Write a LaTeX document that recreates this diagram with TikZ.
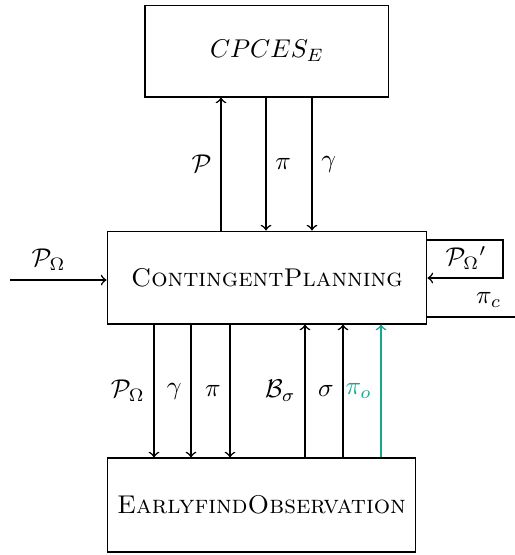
\documentclass[tikz,border=0pt]{standalone}
\usepackage{amsmath,amssymb,amsfonts}
\usepackage{tikz}
\usepackage{xcolor}
\definecolor{obscolor}{RGB}{22,168,142}

\begin{document}
\begin{tikzpicture}[x=0.0137cm, y=-0.0137cm, baseline=(current bounding box.center)]
 \useasboundingbox (0,0) rectangle (515,555);
 % the three modules
 \node[draw, inner sep=2pt, minimum width=3.343cm, minimum height=1.26cm] (cpces) at (267,51) {$CPCES_E$};
 \node[draw, inner sep=2pt, minimum width=4.384cm, minimum height=1.274cm] (plan) at (267,277.5) {\textsc{ContingentPlanning}};
 \node[draw, inner sep=2pt, minimum width=4.233cm, minimum height=1.288cm] (obs) at (261.5,505) {\textsc{EarlyfindObservation}};
 % planner <-> CPCES
 \draw[semithick, ->] (plan.north -| 221,0) -- (cpces.south -| 221,0) node[midway, left] {$\mathcal{P}$};
 \draw[semithick, ->] (cpces.south -| 266,0) -- (plan.north -| 266,0) node[midway, right] {$\pi$};
 \draw[semithick, ->] (cpces.south -| 312,0) -- (plan.north -| 312,0) node[midway, right] {$\gamma$};
 % input problem and the loop on the right
 \coordinate (pin) at (10,280);
 \draw[semithick, ->] (pin) -- (pin -| plan.west) node[pos=.4, above] {$\mathcal{P}_\Omega$};
 \draw[semithick, ->] (plan.east |- 0,240) -- (503,240) -- (503,278) -- (plan.east |- 0,278);
 \node (pomega) at (466,258) {$\mathcal{P}_\Omega{}'$};
 \coordinate (pcout) at (515,317);
 \draw[semithick] (plan.east |- pcout) -- (pcout) node[pos=.7, above] {$\pi_c$};
 % planner <-> observation finder
 \draw[semithick, ->] (plan.south -| 154,0) -- (obs.north -| 154,0) node[midway, left] {$\mathcal{P}_\Omega$};
 \draw[semithick, ->] (plan.south -| 191,0) -- (obs.north -| 191,0) node[midway, left] {$\gamma$};
 \draw[semithick, ->] (plan.south -| 230,0) -- (obs.north -| 230,0) node[midway, left] {$\pi$};
 \draw[semithick, ->] (obs.north -| 305,0) -- (plan.south -| 305,0) node[midway, left] {$\mathcal{B}_\sigma$};
 \draw[semithick, ->] (obs.north -| 343,0) -- (plan.south -| 343,0) node[midway, left] {$\sigma$};
 \draw[semithick, ->, obscolor] (obs.north -| 381,0) -- (plan.south -| 381,0) node[midway, left] {$\pi_o$};
\end{tikzpicture}
\end{document}
